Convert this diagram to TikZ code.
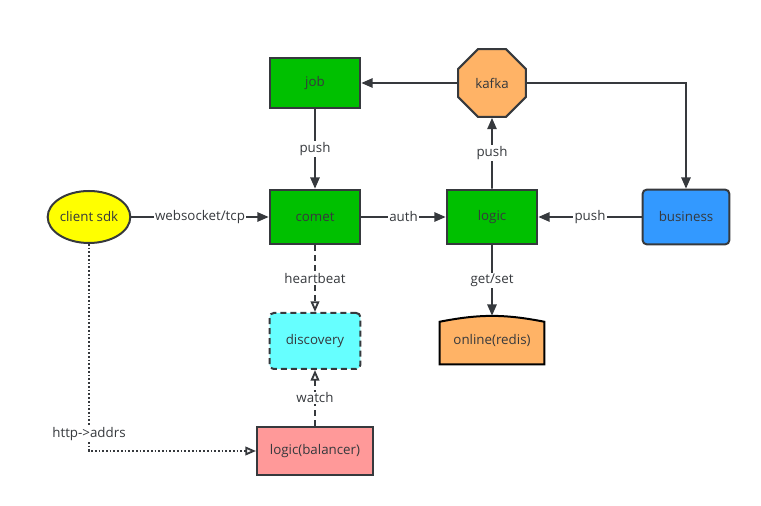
\documentclass[tikz,border=0pt]{standalone}
\usepackage{fontspec}
\setmainfont{Open Sans}
\usetikzlibrary{positioning, shapes.geometric, arrows.meta, backgrounds}

\definecolor{darkline}{HTML}{36393D}
\definecolor{boxgreen}{HTML}{00C000}
\definecolor{kafkaorange}{HTML}{FFB366}
\definecolor{bizblue}{HTML}{3399FF}
\definecolor{disccyan}{HTML}{66FFFF}
\definecolor{balpink}{HTML}{FF9999}
\definecolor{sdkyellow}{HTML}{FFFF00}

\begin{document}
\begin{tikzpicture}[>={Triangle[length=8.5pt,width=7pt]},on grid,color=darkline,
    font=\fontsize{10}{12}\selectfont,
    base box/.style={rectangle,draw,line width=1.5pt,minimum width=68pt,minimum height=41pt},
    green box/.style={base box,fill=boxgreen},
    kafka node/.style={regular polygon,regular polygon sides=8,draw,line width=1.5pt,fill=kafkaorange,minimum size=55pt,inner sep=0pt},
    biz node/.style={base box,rounded corners=3pt,fill=bizblue,minimum width=65pt},
    sdk node/.style={ellipse,draw,line width=1.5pt,fill=sdkyellow,inner sep=0pt,minimum width=62pt,minimum height=39pt},
    disc node/.style={base box,rounded corners=3pt,dash pattern=on 4.5pt off 3pt,fill=disccyan,minimum height=42pt},
    redis node/.style={rectangle,minimum width=78pt,minimum height=36pt},
    bal node/.style={base box,fill=balpink,minimum width=87pt,minimum height=36pt},
    lbl/.style={fill=white,inner sep=1pt},
    conn/.style={->,draw=darkline,line width=1.4pt},
    hollow dash/.style={-{Triangle[open,length=8pt,width=6.5pt]},draw=darkline,line width=1.4pt,dash pattern=on 4.5pt off 3pt},
    hollow dot/.style={-{Triangle[open,length=8pt,width=6.5pt]},draw=darkline,line width=1.4pt,dash pattern=on 1.3pt off 1.5pt}]

\useasboundingbox (-236.25pt,-216.75pt) rectangle (334.5pt,162.75pt);

\node[green box]                 (comet)                              {comet};
\node[green box,minimum height=38pt] (job)   [above=100.5pt of comet] {job};
\node[green box]                 (logic)     [right=132.75pt of comet] {logic};
\node[kafka node]                (kafka)     [above=100.5pt of logic] {kafka};
\node[biz node]                  (business)  [right=145.5pt of logic] {business};
\node[sdk node]                  (client)    [left=169.5pt of comet]  {\makebox[40pt]{client sdk}};
\node[disc node]                 (discovery) [below=93pt of comet]    {discovery};
\node[redis node]                (online)    [below=92.25pt of logic] {online(redis)};
\node[bal node]                  (balancer)  [below=82.5pt of discovery] {logic(balancer)};

% curved top of the redis store
\begin{pgfonlayer}{background}
\filldraw[fill=kafkaorange,line width=1.5pt] (online.south west) -- (online.south east)
    -- ([yshift=-4.5pt]online.north east) to[bend right=11] ([yshift=-4.5pt]online.north west) -- cycle;
\end{pgfonlayer}

\path
(kafka) edge[conn] (job)
(job) edge[conn] node[lbl]{push} (comet)
(client) edge[conn] node[lbl]{websocket/tcp} (comet)
(comet) edge[conn] node[lbl]{auth} (logic)
(business) edge[conn] node[lbl]{push} (logic)
(logic) edge[conn] node[lbl]{push} (kafka)
(logic) edge[conn] node[lbl]{get/set} (online)
;
\draw[conn] (kafka) -| (business);

\path
(comet) edge[hollow dash] node[lbl]{heartbeat} (discovery)
(balancer) edge[hollow dash] node[lbl]{watch} (discovery)
;
\draw[hollow dot] (client) |- node[lbl,pos=0.46]{http->addrs} (balancer);
\end{tikzpicture}
\end{document}
